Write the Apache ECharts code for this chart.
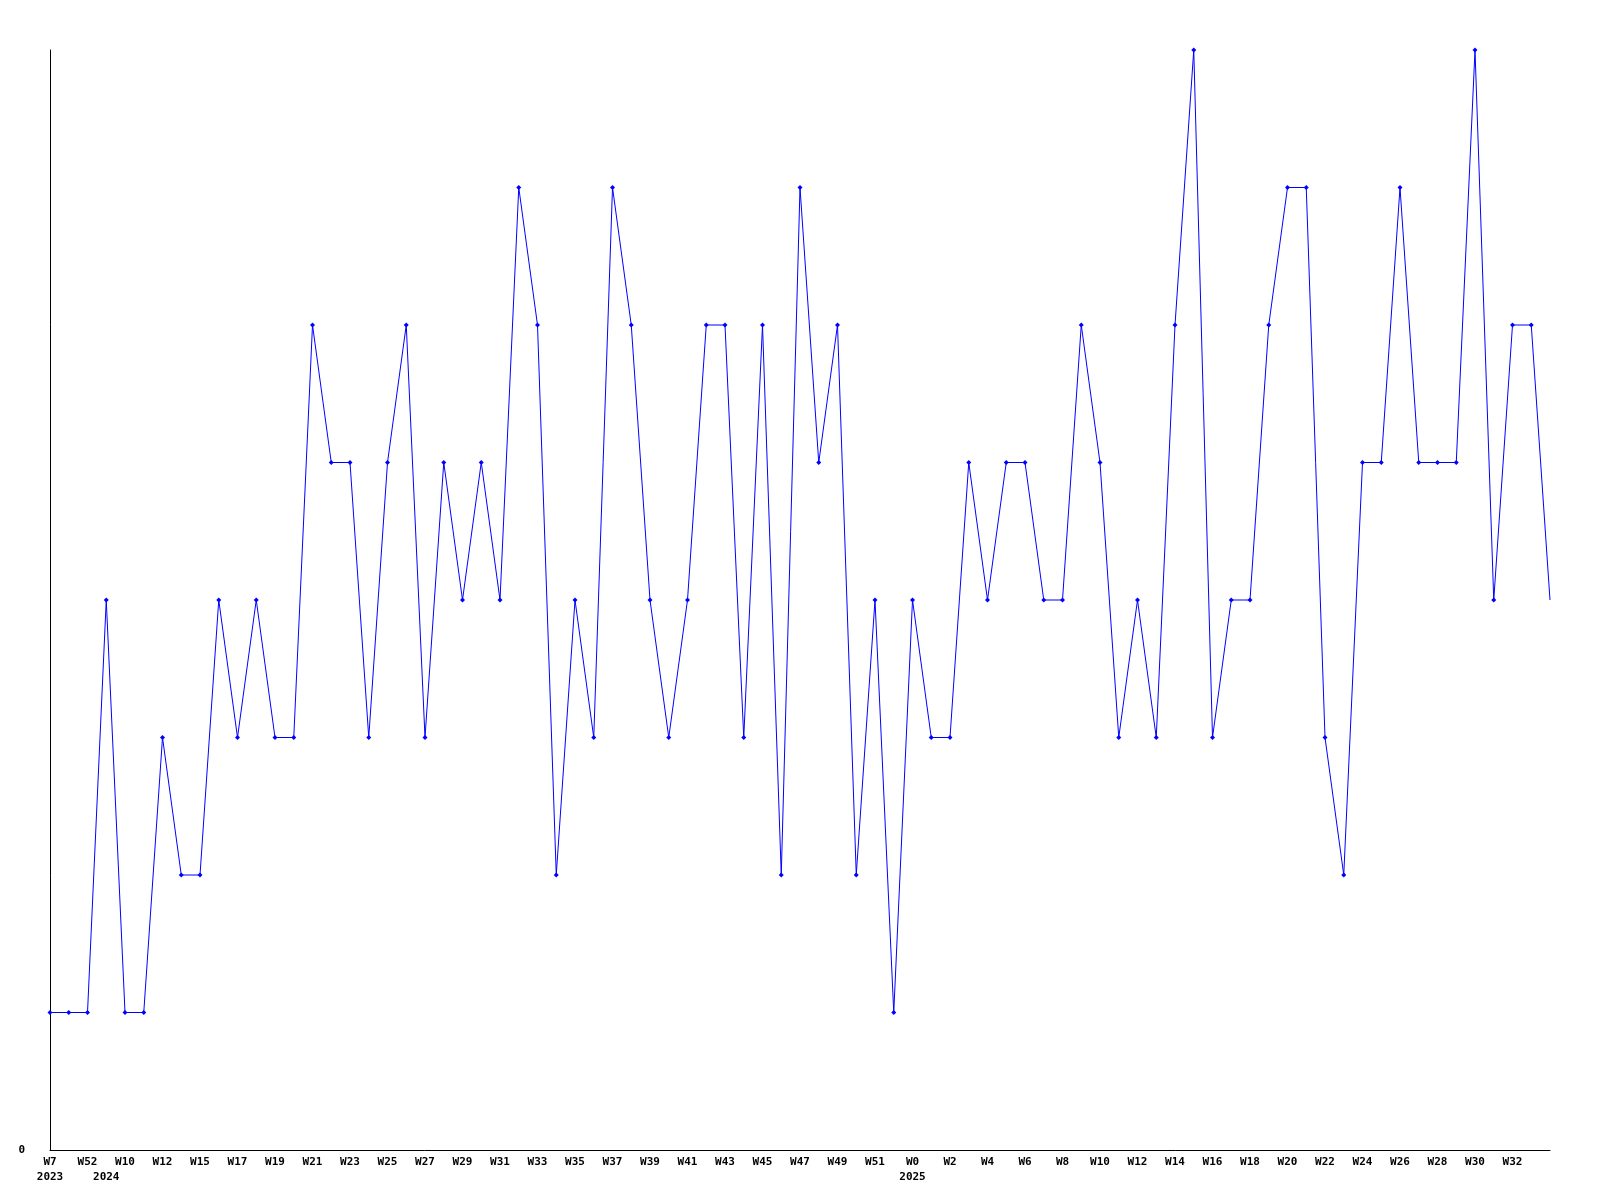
<!DOCTYPE html>
<html>
<head>
<meta charset="utf-8">
<script src="https://cdn.jsdelivr.net/npm/echarts@6/dist/echarts.min.js"></script>
<style>
html,body{margin:0;padding:0;background:#fff;}
#chart{width:1600px;height:1200px;}
</style>
</head>
<body>
<div id="chart"></div>
<script>
// categories: week of each point (some unlabeled names are guesses)
const weeks = ['W7','W51','W52','W9','W10','W11','W12','W14','W15','W16',
  'W17','W18','W19','W20','W21','W22','W23','W24','W25','W26',
  'W27','W28','W29','W30','W31','W32','W33','W34','W35','W36',
  'W37','W38','W39','W40','W41','W42','W43','W44','W45','W46',
  'W47','W48','W49','W50','W51','W52','W0','W1','W2','W3',
  'W4','W5','W6','W7','W8','W9','W10','W11','W12','W13',
  'W14','W15','W16','W17','W18','W19','W20','W21','W22','W23',
  'W24','W25','W26','W27','W28','W29','W30','W31','W32','W33','W34'];
const years = [2023,2023,2023,2024,2024,2024,2024,2024,2024,2024,
  2024,2024,2024,2024,2024,2024,2024,2024,2024,2024,
  2024,2024,2024,2024,2024,2024,2024,2024,2024,2024,
  2024,2024,2024,2024,2024,2024,2024,2024,2024,2024,
  2024,2024,2024,2024,2024,2024,2025,2025,2025,2025,
  2025,2025,2025,2025,2025,2025,2025,2025,2025,2025,
  2025,2025,2025,2025,2025,2025,2025,2025,2025,2025,
  2025,2025,2025,2025,2025,2025,2025,2025,2025,2025,2025];
const values = [1,1,1,4,1,1,3,2,2,4,
  3,4,3,3,6,5,5,3,5,6,
  3,5,4,5,4,7,6,2,4,3,
  7,6,4,3,4,6,6,3,6,2,
  7,5,6,2,4,1,4,3,3,5,
  4,5,5,4,4,6,5,3,4,3,
  6,8,3,4,4,6,7,7,3,2,
  5,5,7,5,5,5,8,4,6,6,4];
const yTickLabels = ['0'];

const categories = weeks.map((w, i) => years[i] + '-' + w + '-' + i);
const seriesData = values.map((v, i) => i === values.length - 1 ? {value: v, symbol: 'none'} : v);

const chart = echarts.init(document.getElementById('chart'));
const font = {fontFamily: 'DejaVu Sans Mono', fontWeight: 'bold', fontSize: 11, color: '#000'};
chart.setOption({
  animation: false,
  backgroundColor: '#fff',
  grid: {left: 50, right: 50, top: 50, bottom: 50, containLabel: false},
  xAxis: {
    type: 'category',
    data: categories,
    boundaryGap: false,
    axisLine: {lineStyle: {color: '#000', width: 1}},
    axisTick: {show: false},
    splitLine: {show: false},
    axisLabel: Object.assign({
      interval: 0,
      margin: 5,
      lineHeight: 15,
      align: 'center',
      formatter: function (val, idx) {
        if (idx === weeks.length - 1) return '';
        const first = idx === 0 || years[idx] !== years[idx - 1];
        const w = idx % 2 === 0 ? weeks[idx] : '';
        if (!first && !w) return '';
        return first ? (w + '\n' + years[idx]) : w;
      }
    }, font)
  },
  yAxis: {
    type: 'value',
    min: 0, max: 8, interval: 8,
    axisLine: {show: true, lineStyle: {color: '#000', width: 1}},
    axisTick: {show: false},
    splitLine: {show: false},
    axisLabel: Object.assign({
      margin: 25,
      formatter: function (v) { return v === 0 ? yTickLabels[0] : ''; }
    }, font)
  },
  series: [{
    type: 'line',
    data: seriesData,
    symbol: 'diamond',
    symbolSize: 5,
    showAllSymbol: true,
    lineStyle: {color: '#0000ff', width: 1},
    itemStyle: {color: '#0000ff'},
    emphasis: {disabled: true}
  }]
});
</script>
</body>
</html>
